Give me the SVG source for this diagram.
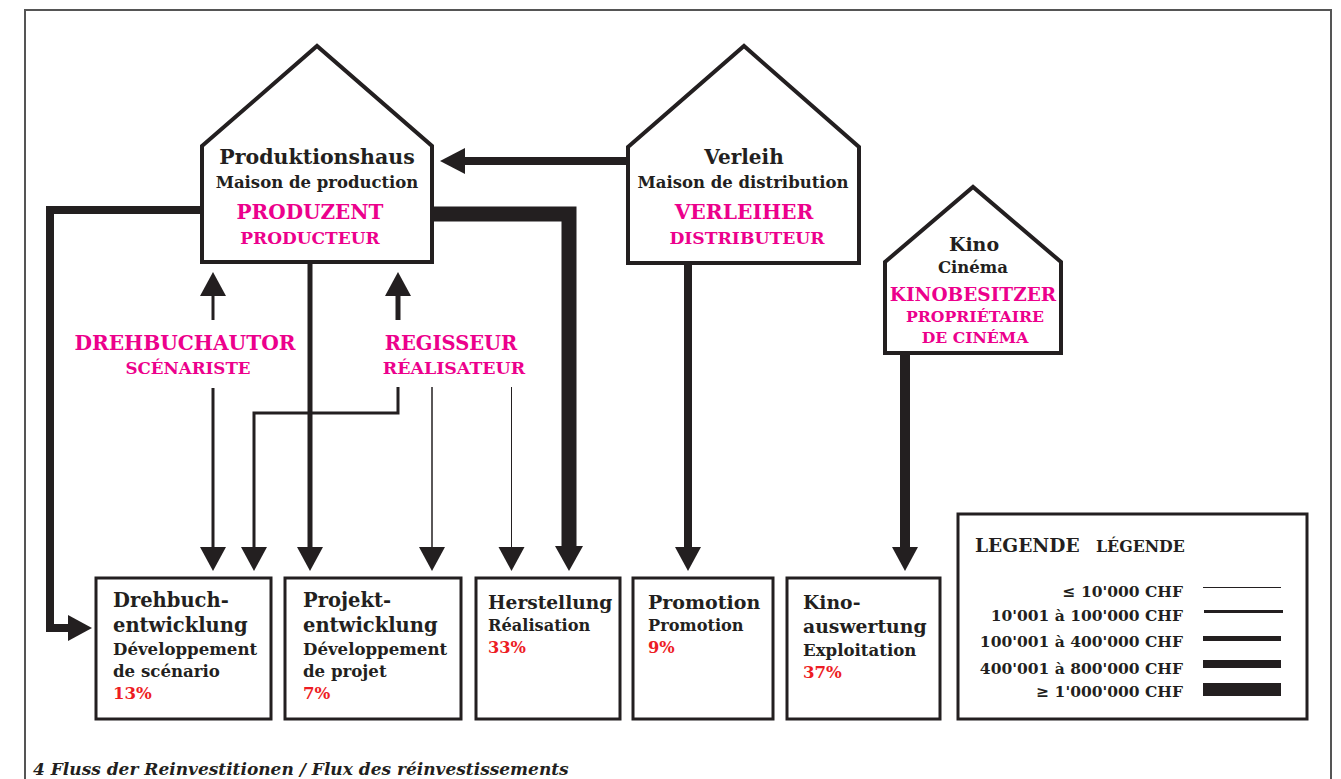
<svg xmlns="http://www.w3.org/2000/svg" width="1341" height="779" viewBox="0 0 1341 779">
<defs>
<style>
.house{fill:#fff;stroke:#231f20;stroke-width:4;stroke-linejoin:miter}
.box{fill:#fff;stroke:#231f20;stroke-width:3}
.ln{fill:none;stroke:#231f20;stroke-linejoin:miter}
.ah{fill:#231f20}
.t{font-family:"DejaVu Serif","Liberation Serif",serif;font-weight:bold;fill:#231f20}
.m{font-family:"DejaVu Serif","Liberation Serif",serif;font-weight:bold;fill:#ec008c}
.r{font-family:"DejaVu Serif","Liberation Serif",serif;font-weight:bold;fill:#ed1c24}
.c{text-anchor:middle}
.e{text-anchor:end}
</style>
</defs>
<rect width="1341" height="779" fill="#fff"/>
<path d="M25,779 V10 H1331 V779" fill="none" stroke="#555" stroke-width="2"/>

<g id="connectors">
  <line class="ln" x1="628" y1="161" x2="462" y2="161" stroke-width="8"/>
  <polygon class="ah" points="440,161 465,148 465,174"/>
  <polyline class="ln" points="202,210 50,210 50,628 70,628" stroke-width="8"/>
  <polygon class="ah" points="92,628 68,615 68,641"/>
  <polyline class="ln" points="432,214 569,214 569,550" stroke-width="15"/>
  <polygon class="ah" points="569,571 555,546 583,546"/>
  <line class="ln" x1="310" y1="263" x2="310" y2="550" stroke-width="5"/>
  <polygon class="ah" points="310,571 297,547 323,547"/>
  <line class="ln" x1="213" y1="294" x2="213" y2="320" stroke-width="3"/>
  <polygon class="ah" points="213,272 200,296 226,296"/>
  <line class="ln" x1="213" y1="388" x2="213" y2="550" stroke-width="3"/>
  <polygon class="ah" points="213,571 200,547 226,547"/>
  <line class="ln" x1="398" y1="294" x2="398" y2="320" stroke-width="5"/>
  <polygon class="ah" points="398,272 385,296 411,296"/>
  <polyline class="ln" points="398,387 398,413 254,413 254,550" stroke-width="3"/>
  <polygon class="ah" points="254,571 241,547 267,547"/>
  <line class="ln" x1="432" y1="387" x2="432" y2="550" stroke-width="1.5"/>
  <polygon class="ah" points="432,571 419,547 445,547"/>
  <line class="ln" x1="511.5" y1="387" x2="511.5" y2="550" stroke-width="1"/>
  <polygon class="ah" points="511.5,571 498.5,547 524.5,547"/>
  <line class="ln" x1="688" y1="263" x2="688" y2="550" stroke-width="8"/>
  <polygon class="ah" points="688,571 675,547 701,547"/>
  <line class="ln" x1="905" y1="353" x2="905" y2="550" stroke-width="10"/>
  <polygon class="ah" points="905,571 892,547 918,547"/>
</g>

<g id="produktionshaus">
  <polygon class="house" points="202,146 317,46 432,146 432,262 202,262"/>
  <text class="t c" x="317" y="164" font-size="20.5">Produktionshaus</text>
  <text class="t c" x="317" y="188" font-size="16.5">Maison de production</text>
  <text class="m c" x="310" y="219" font-size="20">PRODUZENT</text>
  <text class="m c" x="310" y="244" font-size="17">PRODUCTEUR</text>
</g>

<g id="verleih">
  <polygon class="house" points="628,147 744,46 859,147 859,263 628,263"/>
  <text class="t c" x="744" y="164" font-size="20">Verleih</text>
  <text class="t c" x="743" y="188" font-size="16.5">Maison de distribution</text>
  <text class="m c" x="744" y="219" font-size="20.3">VERLEIHER</text>
  <text class="m c" x="747" y="244" font-size="17.2">DISTRIBUTEUR</text>
</g>

<g id="kino">
  <polygon class="house" points="885,262 973,187 1061,262 1061,353 885,353"/>
  <text class="t c" x="974" y="251" font-size="19">Kino</text>
  <text class="t c" x="973" y="273" font-size="16.5">Cinéma</text>
  <text class="m c" x="973" y="301" font-size="18.5">KINOBESITZER</text>
  <text class="m c" x="975" y="322" font-size="15.7">PROPRIÉTAIRE</text>
  <text class="m c" x="975" y="343" font-size="15.7">DE CINÉMA</text>
</g>

<g id="drehbuchautor">
  <text class="m c" x="185" y="350" font-size="20.2">DREHBUCHAUTOR</text>
  <text class="m c" x="188" y="374" font-size="16.7">SCÉNARISTE</text>
</g>

<g id="regisseur">
  <text class="m c" x="451" y="350" font-size="19.5">REGISSEUR</text>
  <text class="m c" x="454" y="374" font-size="17.4">RÉALISATEUR</text>
</g>

<g id="drehbuchentwicklung">
  <rect class="box" x="96" y="578" width="175" height="141"/>
  <text class="t" x="113" y="607" font-size="19.5">Drehbuch-</text>
  <text class="t" x="113" y="632" font-size="19.5">entwicklung</text>
  <text class="t" x="113" y="655" font-size="16.6">Développement</text>
  <text class="t" x="113" y="677" font-size="16.6">de scénario</text>
  <text class="r" x="113" y="699" font-size="16.6">13%</text>
</g>

<g id="projektentwicklung">
  <rect class="box" x="285" y="578" width="176" height="141"/>
  <text class="t" x="303" y="607" font-size="19.5">Projekt-</text>
  <text class="t" x="303" y="632" font-size="19.5">entwicklung</text>
  <text class="t" x="303" y="655" font-size="16.6">Développement</text>
  <text class="t" x="303" y="677" font-size="16.6">de projet</text>
  <text class="r" x="303" y="699" font-size="16.6">7%</text>
</g>

<g id="herstellung">
  <rect class="box" x="476" y="578" width="144" height="141"/>
  <text class="t" x="488" y="609" font-size="18.6">Herstellung</text>
  <text class="t" x="488" y="631" font-size="16.2">Réalisation</text>
  <text class="r" x="488" y="653" font-size="16.2">33%</text>
</g>

<g id="promotion">
  <rect class="box" x="633" y="578" width="140" height="141"/>
  <text class="t" x="648" y="609" font-size="19">Promotion</text>
  <text class="t" x="648" y="631" font-size="16.2">Promotion</text>
  <text class="r" x="648" y="653" font-size="16.2">9%</text>
</g>

<g id="kinoauswertung">
  <rect class="box" x="787" y="578" width="153" height="141"/>
  <text class="t" x="803" y="609" font-size="18.8">Kino-</text>
  <text class="t" x="803" y="633" font-size="18.8">auswertung</text>
  <text class="t" x="803" y="656" font-size="16.6">Exploitation</text>
  <text class="r" x="803" y="678" font-size="16.6">37%</text>
</g>

<g id="legende">
  <rect class="box" x="958" y="514" width="349" height="205"/>
  <text class="t" x="975" y="552" font-size="18.6">LEGENDE</text>
  <text class="t" x="1096" y="552" font-size="15.8">LÉGENDE</text>
  <text class="t e" x="1183" y="597" font-size="15.5">≤ 10'000 CHF</text>
  <text class="t e" x="1183" y="621" font-size="15.5">10'001 à 100'000 CHF</text>
  <text class="t e" x="1183" y="647" font-size="15.5">100'001 à 400'000 CHF</text>
  <text class="t e" x="1183" y="674" font-size="15.5">400'001 à 800'000 CHF</text>
  <text class="t e" x="1183" y="697" font-size="15.5">≥ 1'000'000 CHF</text>
  <line class="ln" x1="1203" y1="587.5" x2="1281" y2="587.5" stroke-width="1"/>
  <line class="ln" x1="1204" y1="611.5" x2="1283" y2="611.5" stroke-width="3"/>
  <line class="ln" x1="1203" y1="638.5" x2="1281" y2="638.5" stroke-width="5"/>
  <line class="ln" x1="1203" y1="664" x2="1281" y2="664" stroke-width="8"/>
  <line class="ln" x1="1203" y1="689.5" x2="1281" y2="689.5" stroke-width="13"/>
</g>

<text class="t" x="33" y="775" font-size="17" font-style="italic">4  Fluss der Reinvestitionen / Flux des réinvestissements</text>
</svg>
